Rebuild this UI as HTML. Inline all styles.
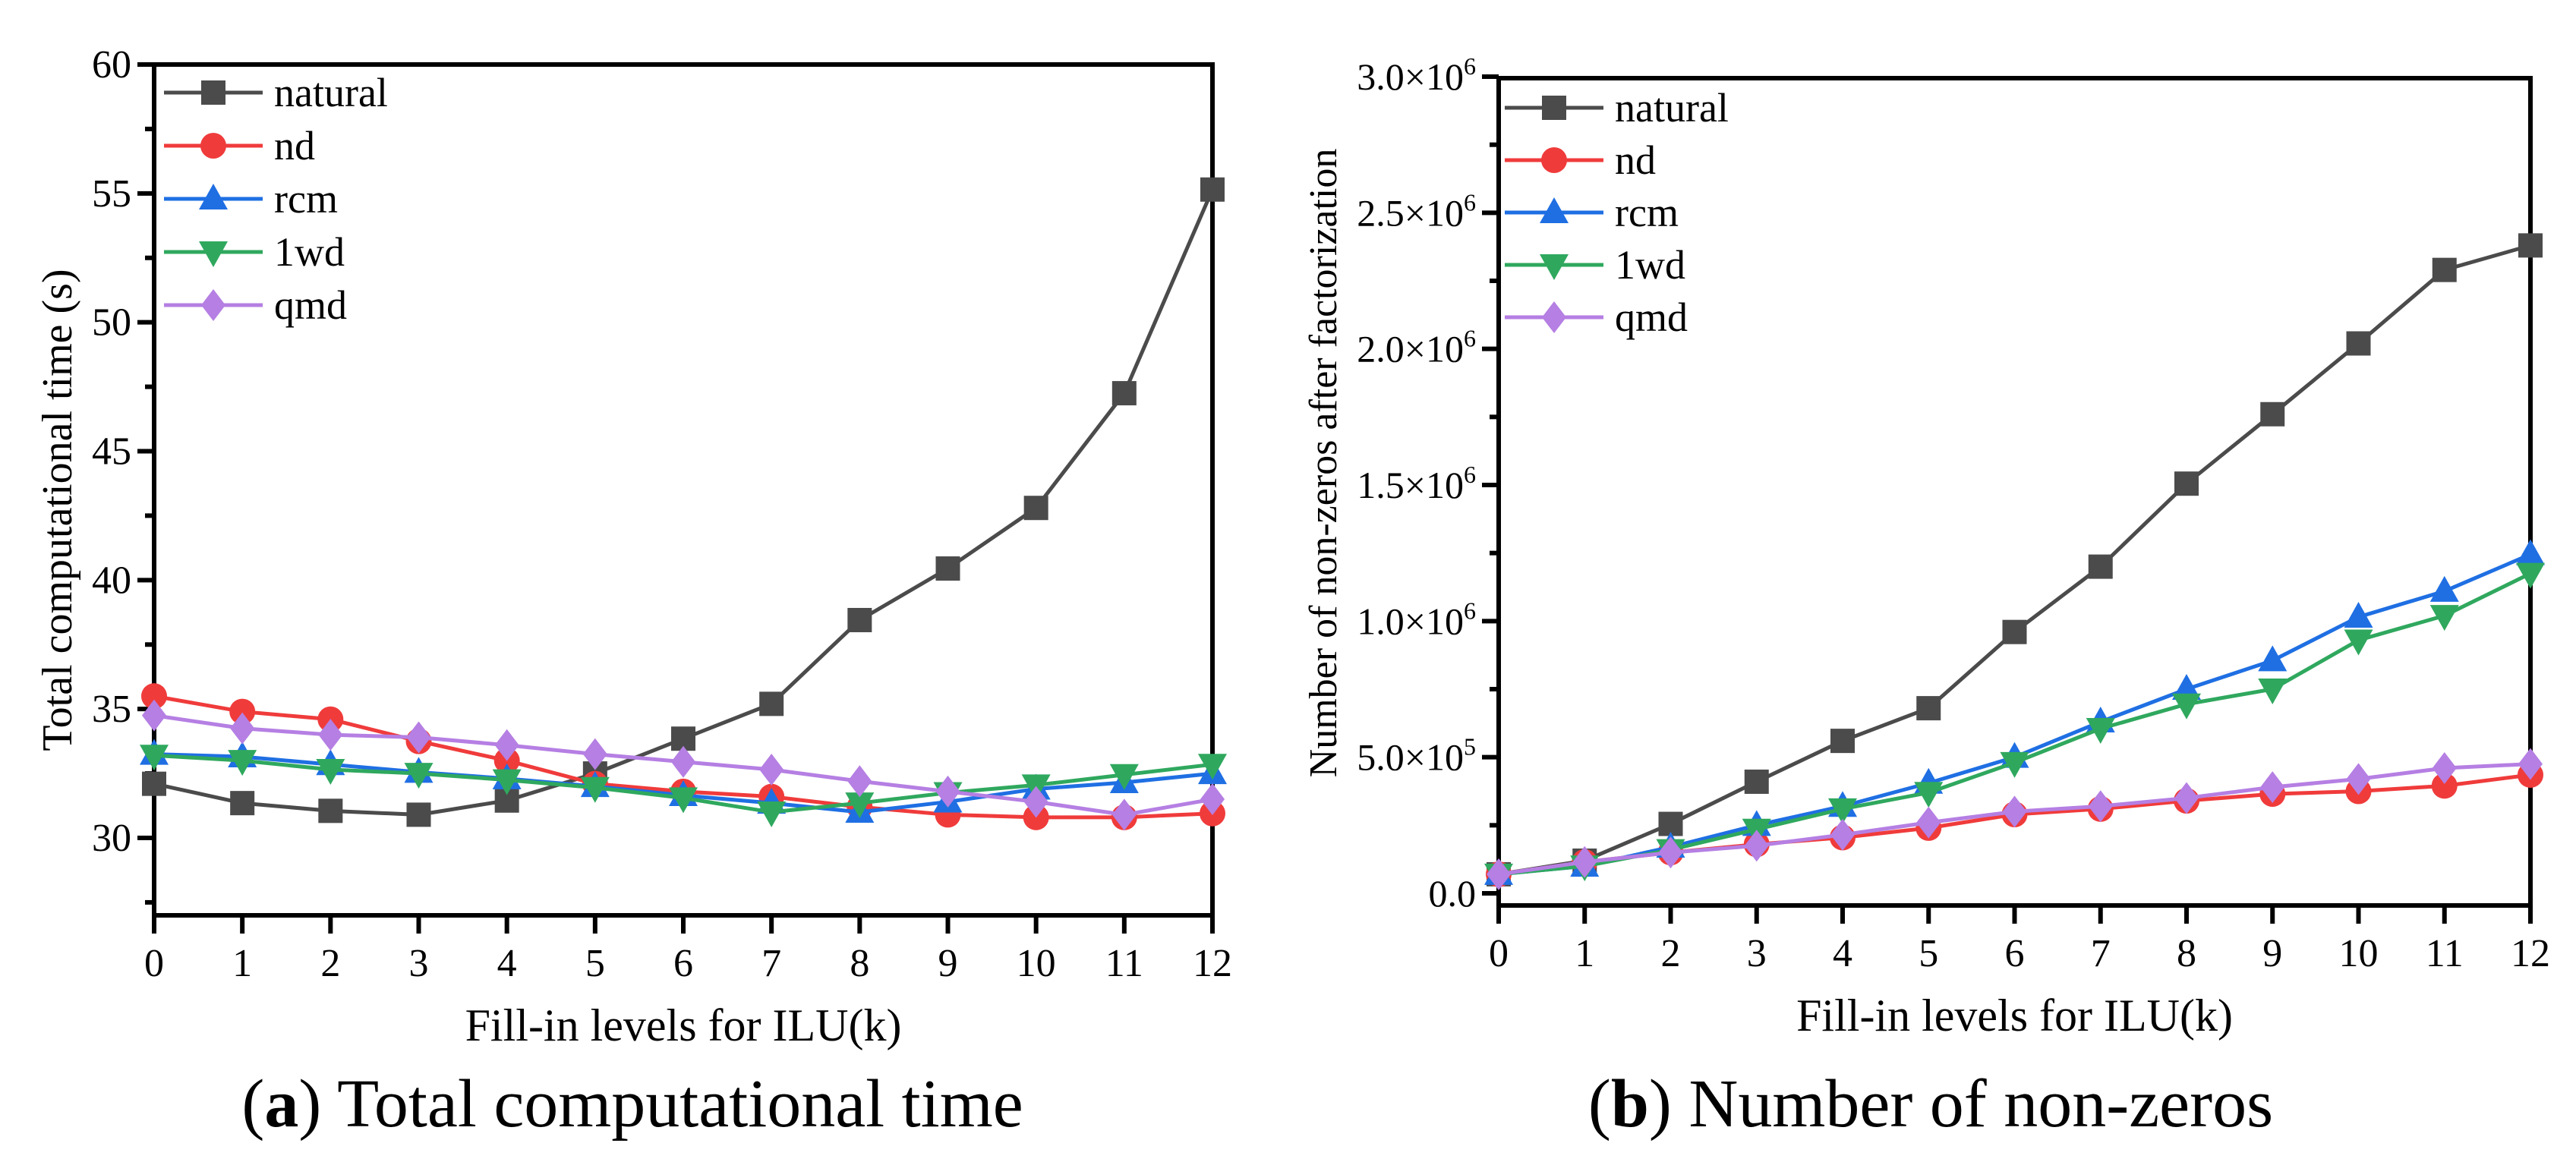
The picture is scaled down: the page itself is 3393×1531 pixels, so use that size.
<!DOCTYPE html>
<html><head><meta charset="utf-8"><style>
html,body{margin:0;padding:0;background:#fff;}
svg{display:block;font-family:"Liberation Serif",serif;}
</style></head><body>
<svg id="fig" width="3393" height="1531" viewBox="0 0 3393 1531"></svg>
<script>
const levels=[0,1,2,3,4,5,6,7,8,9,10,11,12];
const seriesNames=["natural","nd","rcm","1wd","qmd"];
const timeNatural=[32.1,31.35,31.05,30.9,31.45,32.5,33.85,35.2,38.45,40.45,42.8,47.25,55.15];
const timeNd=[35.5,34.9,34.6,33.75,33.0,32.1,31.8,31.6,31.2,30.9,30.8,30.8,30.95];
const timeRcm=[33.25,33.15,32.85,32.55,32.3,32.0,31.65,31.35,31.0,31.4,31.9,32.15,32.5];
const time1wd=[33.2,33.0,32.65,32.5,32.25,31.95,31.55,31.0,31.35,31.75,32.05,32.45,32.85];
const timeQmd=[34.75,34.25,34.0,33.9,33.6,33.25,32.95,32.65,32.2,31.8,31.4,30.9,31.5];
const nnzNatural=[0.07,0.12,0.255,0.41,0.56,0.68,0.96,1.2,1.505,1.76,2.02,2.29,2.38];
const nnzNd=[0.07,0.115,0.15,0.18,0.205,0.24,0.29,0.31,0.34,0.365,0.375,0.395,0.435];
const nnzRcm=[0.07,0.1,0.17,0.25,0.32,0.405,0.5,0.63,0.75,0.855,1.015,1.11,1.245];
const nnz1wd=[0.07,0.1,0.16,0.235,0.31,0.37,0.48,0.605,0.695,0.75,0.93,1.02,1.175];
const nnzQmd=[0.07,0.115,0.15,0.175,0.215,0.26,0.3,0.32,0.35,0.39,0.42,0.46,0.475];
const timeTicks=[30,35,40,45,50,55,60];
const nnzTicks=[0,0.5,1.0,1.5,2.0,2.5,3.0];

const colors=["#4b4b4b","#f03b3b","#1f6fe3","#2fa85e","#b57fe3"];
const shapes=["square","circle","up","down","diamond"];
const NS="http://www.w3.org/2000/svg";
const svg=document.getElementById('fig');
function el(tag,attrs,parent,text){const e=document.createElementNS(NS,tag);for(const k in attrs)e.setAttribute(k,attrs[k]);if(text!==undefined)e.textContent=text;(parent||svg).appendChild(e);return e;}
function marker(g,shape,cx,cy,c){
  let e;
  if(shape==="square")e=el('rect',{x:cx-16,y:cy-16,width:32,height:32,fill:c},g);
  else if(shape==="circle")e=el('circle',{cx:cx,cy:cy,r:17,fill:c},g);
  else if(shape==="up")e=el('polygon',{points:`${cx},${cy-20} ${cx+19},${cy+14} ${cx-19},${cy+14}`,fill:c},g);
  else if(shape==="down")e=el('polygon',{points:`${cx},${cy+20} ${cx+19},${cy-14} ${cx-19},${cy-14}`,fill:c},g);
  else e=el('polygon',{points:`${cx},${cy-21} ${cx+16},${cy} ${cx},${cy+21} ${cx-16},${cy}`,fill:c},g);
  
  
}
function chart(cfg){
  const g=el('g',{});
  
  
  const X=v=>cfg.x0+(v-0)/12*(cfg.x1-cfg.x0);
  const Y=v=>cfg.yZero+(v-cfg.tVal0)/(cfg.tVal1-cfg.tVal0)*(cfg.yOne-cfg.yZero);
  const fr=el('rect',{x:cfg.x0,y:cfg.top,width:cfg.x1-cfg.x0,height:cfg.bottom-cfg.top,fill:'none',stroke:'#000','stroke-width':6},g);
  
  levels.forEach(v=>{
    el('line',{x1:X(v),y1:cfg.bottom,x2:X(v),y2:cfg.bottom+24,stroke:'#000','stroke-width':6},g);
    const t=el('text',{x:X(v),y:cfg.bottom+80,'font-size':52,'text-anchor':'middle'},g,String(v));
    
  });
  cfg.ticks.forEach((v,i)=>{
    const y=Y(v);
    el('line',{x1:cfg.x0-22,y1:y,x2:cfg.x0,y2:y,stroke:'#000','stroke-width':6},g);
    if(i<cfg.ticks.length-1){const ym=(y+Y(cfg.ticks[i+1]))/2;el('line',{x1:cfg.x0-12,y1:ym,x2:cfg.x0,y2:ym,stroke:'#000','stroke-width':6},g);}
    const t=el('text',{x:cfg.x0-30,y:y+17,'font-size':cfg.tickFs,'text-anchor':'end'},g);
    
    cfg.fmt(t,v);
  });
  if(cfg.extraMinor){const y=Y(cfg.ticks[0])+(Y(cfg.ticks[0])-Y(cfg.ticks[1]))/2;el('line',{x1:cfg.x0-12,y1:y,x2:cfg.x0,y2:y,stroke:'#000','stroke-width':6},g);}
  cfg.data.forEach((arr,si)=>{
    const sg=el('g',{},g);
    
    
    const pts=arr.map((v,i)=>X(levels[i])+','+Y(v)).join(' ');
    el('polyline',{points:pts,fill:'none',stroke:colors[si],'stroke-width':5},sg);
    arr.forEach((v,i)=>marker(sg,shapes[si],X(levels[i]),Y(v),colors[si]));
  });
  const lg=el('g',{},g);
  
  seriesNames.forEach((n,i)=>{
    const y=cfg.legY+i*cfg.legDy;
    const eg=el('g',{},lg);
    
    el('line',{x1:cfg.legX,y1:y,x2:cfg.legX+130,y2:y,stroke:colors[i],'stroke-width':5},eg);
    marker(eg,shapes[i],cfg.legX+65,y,colors[i]);
    el('text',{x:cfg.legX+145,y:y+18,'font-size':54},eg,n);
  });
  const xt=el('text',{x:(cfg.x0+cfg.x1)/2,y:cfg.bottom+165,'font-size':60,'text-anchor':'middle'},g,'Fill-in levels for ILU(k)');
  
  const yt=el('text',{x:0,y:0,'font-size':cfg.ytFs,'text-anchor':'middle',transform:`translate(${cfg.ytX},${cfg.ytY}) rotate(-90)`},g,cfg.ytitle);
  
  const cap=el('text',{x:cfg.capX,y:1484,'font-size':90,'text-anchor':'middle'},g);
  
  el('tspan',{},cap,'(');el('tspan',{'font-weight':'bold'},cap,cfg.capL);el('tspan',{},cap,') '+cfg.cap);
}
chart({name:'time-chart',x0:203,x1:1597,top:85,bottom:1206,ticks:timeTicks,tVal0:30,tVal1:60,yZero:1104,yOne:85,tickFs:52,
  data:[timeNatural,timeNd,timeRcm,time1wd,timeQmd],fmt:(t,v)=>{t.textContent=String(v);},extraMinor:true,
  legX:216,legY:122,legDy:70,ytitle:'Total computational time (s)',ytFs:56,ytX:94,ytY:672,capX:833,capL:'a',cap:'Total computational time'});
chart({name:'nnz-chart',x0:1974,x1:3333,top:103,bottom:1193,ticks:nnzTicks,tVal0:0,tVal1:3.0,yZero:1177,yOne:101,tickFs:50,
  data:[nnzNatural,nnzNd,nnzRcm,nnz1wd,nnzQmd],extraMinor:false,
  fmt:(t,v)=>{if(v===0){t.textContent='0.0';return;}
    const s=v.toFixed(1);const e=v<1?5:6;const m=v<1?(v*10).toFixed(1):s;
    el('tspan',{},t,m+'×10');el('tspan',{dy:-20,'font-size':32},t,String(e));},
  legX:1982,legY:142,legDy:69,ytitle:'Number of non-zeros after factorization',ytFs:52,ytX:1760,ytY:610,capX:2543,capL:'b',cap:'Number of non-zeros'});
</script>
</body></html>
